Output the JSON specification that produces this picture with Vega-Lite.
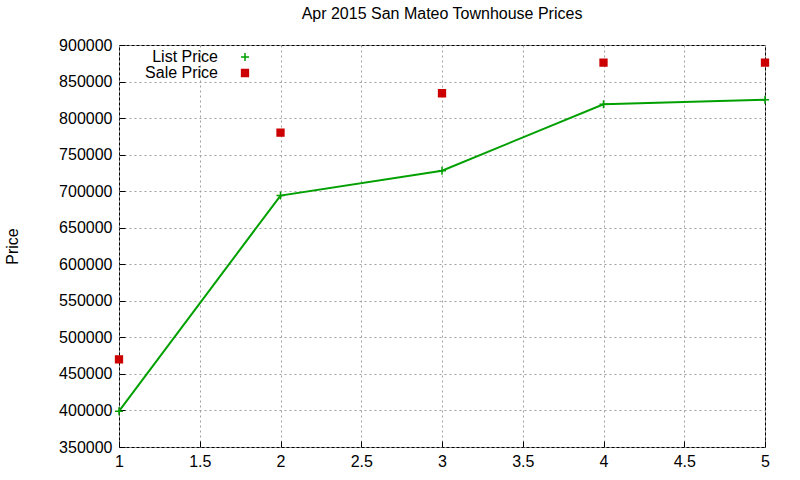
{
  "$schema": "https://vega.github.io/schema/vega-lite/v6.json",
  "width": 646,
  "height": 402,
  "autosize": "none",
  "padding": {"left": 119, "top": 45, "right": 35, "bottom": 33},
  "background": "white",
  "title": {"text": "Apr 2015 San Mateo Townhouse Prices", "fontSize": 16, "fontWeight": "normal", "font": "Liberation Sans", "color": "black", "offset": 15},
  "config": {
    "view": {"stroke": "black", "strokeWidth": 1},
    "axis": {
      "labelFont": "Liberation Sans", "labelFontSize": 16, "labelColor": "black",
      "titleFont": "Liberation Sans", "titleFontSize": 16, "titleFontWeight": "normal", "titleColor": "black",
      "grid": true, "gridColor": "#a0a0a0", "gridDash": [2, 3], "gridWidth": 1,
      "domain": false, "tickColor": "black", "tickSize": -6, "labelPadding": 14,
      "labelOverlap": false, "labelFlush": false, "labelBound": false
    },
    "legend": {"labelFont": "Liberation Sans", "labelFontSize": 16, "labelColor": "black"}
  },
  "data": {"values": [
    {"x": 1, "series": "List Price", "price": 399000},
    {"x": 2, "series": "List Price", "price": 694000},
    {"x": 3, "series": "List Price", "price": 728000},
    {"x": 4, "series": "List Price", "price": 819000},
    {"x": 5, "series": "List Price", "price": 825000},
    {"x": 1, "series": "Sale Price", "price": 470000},
    {"x": 2, "series": "Sale Price", "price": 780000},
    {"x": 3, "series": "Sale Price", "price": 834000},
    {"x": 4, "series": "Sale Price", "price": 876000},
    {"x": 5, "series": "Sale Price", "price": 876000}
  ]},
  "encoding": {
    "x": {"field": "x", "type": "quantitative", "scale": {"domain": [1, 5], "nice": false}, "axis": {"values": [1, 1.5, 2, 2.5, 3, 3.5, 4, 4.5, 5], "format": "~g", "title": null, "labelPadding": 12, "labelOverlap": false, "labelFlush": false}},
    "y": {"field": "price", "type": "quantitative", "scale": {"domain": [350000, 900000], "nice": false, "zero": false}, "axis": {"values": [350000, 400000, 450000, 500000, 550000, 600000, 650000, 700000, 750000, 800000, 850000, 900000], "tickCount": 12, "format": "d", "title": "Price", "titlePadding": 38, "labelPadding": 13, "labelOverlap": false, "labelBound": false, "labelFlush": false}}
  },
  "layer": [
    {
      "transform": [{"filter": "datum.series === 'List Price'"}],
      "mark": {"type": "line", "color": "#00a000", "strokeWidth": 2}
    },
    {
      "mark": {"type": "point", "filled": true, "size": 64, "strokeWidth": 1.5, "opacity": 1},
      "encoding": {
        "color": {"field": "series", "type": "nominal", "scale": {"domain": ["List Price", "Sale Price"], "range": ["#00a000", "#cc0000"]}, "legend": {"title": null, "orient": "none", "legendX": 118, "legendY": 4, "labelAlign": "right", "labelOffset": -35, "rowPadding": 0, "symbolSize": 64, "symbolStrokeWidth": 1.5}},
        "stroke": {"field": "series", "type": "nominal", "scale": {"domain": ["List Price", "Sale Price"], "range": ["#00a000", "#cc0000"]}, "legend": {"title": null, "orient": "none", "legendX": 118, "legendY": 4, "labelAlign": "right", "labelOffset": -35, "rowPadding": 0, "symbolSize": 64, "symbolStrokeWidth": 1.5}},
        "shape": {"field": "series", "type": "nominal", "scale": {"domain": ["List Price", "Sale Price"], "range": ["M-1,0H1M0,-1V1", "M-0.85,-0.85H0.85V0.85H-0.85Z"]}, "legend": {"title": null, "orient": "none", "legendX": 118, "legendY": 4, "labelAlign": "right", "labelOffset": -35, "rowPadding": 0, "symbolSize": 64, "symbolStrokeWidth": 1.5, "encode": {"symbols": {"update": {"shape": [{"test": "datum.value === 'List Price'", "value": "M-5.2,0H5.2M0,-1V1"}, {"value": "M-0.85,-0.85H0.85V0.85H-0.85Z"}], "strokeWidth": [{"test": "datum.value === 'List Price'", "value": 2}, {"value": 1.5}]}}}}}
      }
    }
  ]
}
